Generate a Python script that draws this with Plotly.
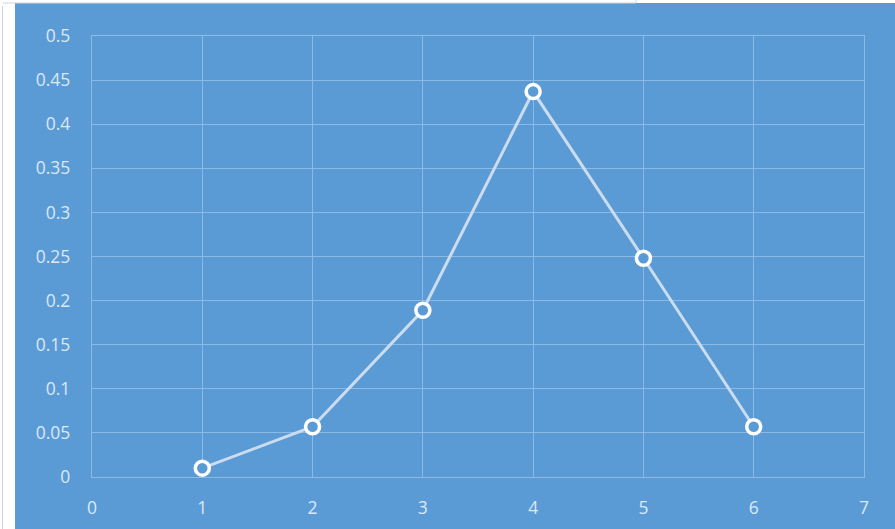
import plotly.graph_objects as go

x_vals = [1, 2, 3, 4, 5, 6]
y_vals = [0.010, 0.057, 0.189, 0.437, 0.248, 0.057]
x_ticks = [0, 1, 2, 3, 4, 5, 6, 7]
y_ticks = [0, 0.05, 0.1, 0.15, 0.2, 0.25, 0.3, 0.35, 0.4, 0.45, 0.5]
y_tick_labels = ["0", "0.05", "0.1", "0.15", "0.2", "0.25", "0.3", "0.35", "0.4", "0.45", "0.5"]

BLUE = "#5B9BD5"
GRID = "#8CBAE6"
TEXT = "#DCE8F6"

W, H = 895, 529
L, R, T, B = 92, 864, 36, 477

fig = go.Figure()
fig.add_trace(go.Scatter(
    x=x_vals, y=y_vals, mode="lines+markers",
    line=dict(color="#CBDCEE", width=3),
    marker=dict(symbol="circle", size=14, color=BLUE,
                line=dict(color="white", width=3.5)),
    cliponaxis=False, showlegend=False,
))

pw = R - L
ph = B - T
def px(xp):
    return (xp - L) / pw
def py(yp):
    return (B - yp) / ph

fig.add_shape(type="rect", xref="paper", yref="paper",
              x0=px(15), x1=px(W + 5), y0=py(H + 5), y1=py(3),
              fillcolor=BLUE, line=dict(width=0), layer="below")
fig.add_shape(type="line", xref="paper", yref="paper",
              x0=px(2.5), x1=px(2.5), y0=py(H + 5), y1=py(6),
              line=dict(color="#D4D4D4", width=1), layer="below")
fig.add_shape(type="line", xref="paper", yref="paper",
              x0=px(2.5), x1=px(636), y0=py(3), y1=py(3),
              line=dict(color="#D4D4D4", width=1), layer="below")
fig.add_shape(type="line", xref="paper", yref="paper",
              x0=px(636), x1=px(636), y0=py(0), y1=py(3),
              line=dict(color="#D4D4D4", width=1), layer="below")

axis_common = dict(showgrid=True, gridcolor=GRID, gridwidth=1.3,
                   zeroline=False, showline=True, linecolor=GRID, linewidth=1.3,
                   mirror=True, ticks="", fixedrange=True, automargin=False)

fig.update_layout(
    width=W, height=H,
    margin=dict(l=L, r=W - R, t=T, b=H - B, pad=0, autoexpand=False),
    paper_bgcolor="white",
    plot_bgcolor="rgba(0,0,0,0)",
    font=dict(family="Open Sans", size=17.5, color=TEXT),
    xaxis=dict(range=[0, 7], tickvals=x_ticks, ticktext=[str(v) for v in x_ticks],
               ticklabelstandoff=15, **axis_common),
    yaxis=dict(range=[0, 0.5], tickvals=y_ticks, ticktext=y_tick_labels,
               ticklabelstandoff=17, **axis_common),
)

fig.write_html("out.html")
